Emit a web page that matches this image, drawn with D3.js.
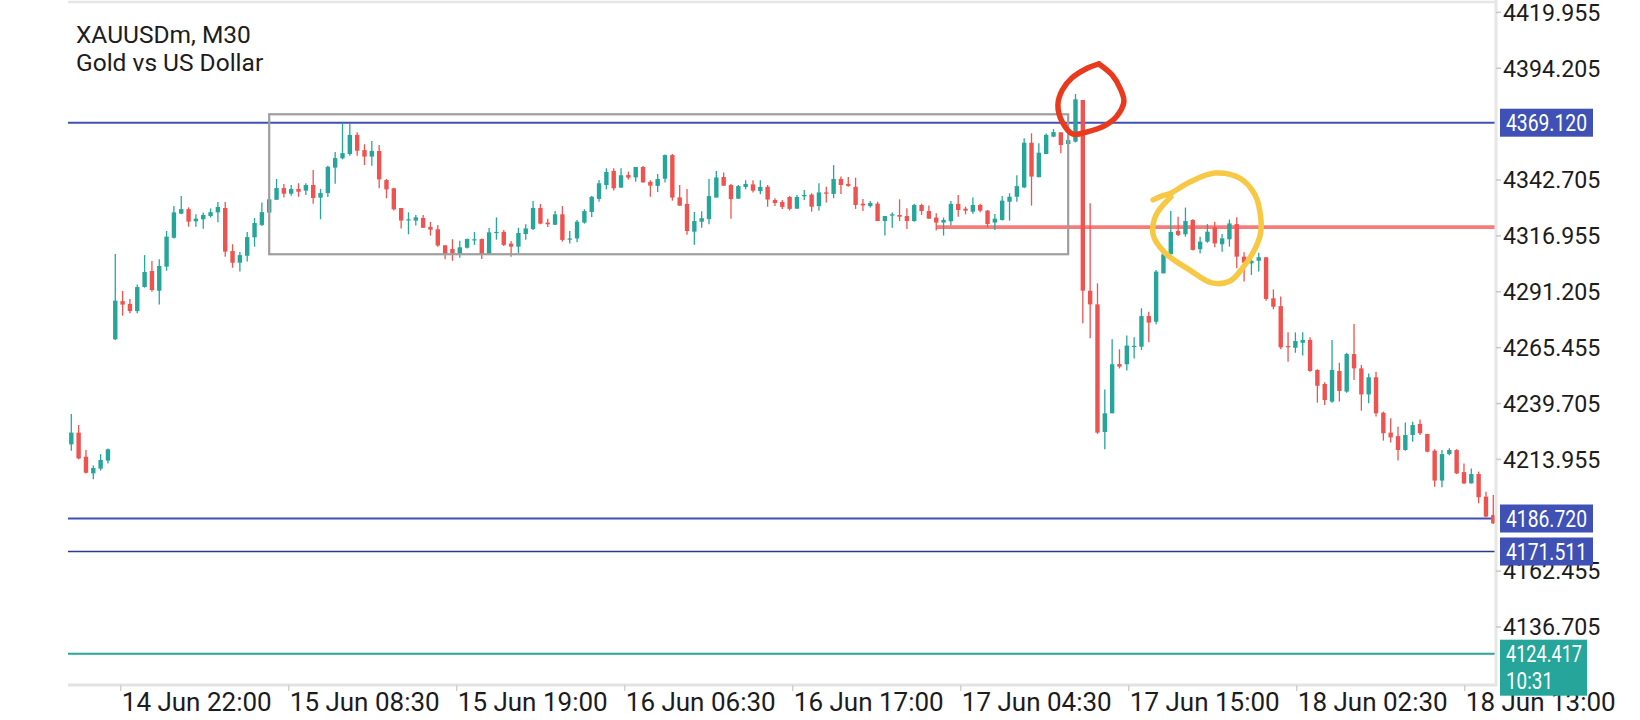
<!DOCTYPE html>
<html>
<head>
<meta charset="utf-8">
<script src="https://cdn.jsdelivr.net/npm/d3@7"></script>
<style>
  html, body { margin: 0; padding: 0; background: #fff; }
  svg { display: block; font-family: Roboto, "Noto Sans", sans-serif; }
</style>
</head>
<body>
<div id="chart"></div>
<script>
// XAUUSDm M30 candles (bar 0 = first visible bar)
const open = [
  4220.9,4226.3,4215.2,4207.5,4209.7,4213.4,4269.3,4286.9,4285.6,4282.3,
  4293.4,4300.8,4291.7,4302.8,4316.1,4327.2,4329.3,4323.7,4324.6,4326.1,
  4327.8,4329.8,4310.0,4304.6,4307.8,4316.3,4322.0,4327.7,4333.6,4339.0,
  4336.4,4338.6,4337.8,4340.4,4334.6,4336.7,4348.4,4352.7,4354.7,4363.5,
  4356.5,4353.5,4356.1,4342.7,4338.9,4329.8,4324.1,4324.0,4325.2,4321.1,
  4320.0,4312.6,4310.9,4308.5,4311.5,4314.9,4315.5,4308.5,4318.4,4318.8,
  4313.4,4312.0,4317.8,4320.1,4329.8,4323.1,4322.1,4326.9,4315.2,4315.8,
  4323.1,4328.0,4334.0,4340.4,4346.9,4339.2,4345.0,4343.9,4348.7,4341.9,
  4340.0,4343.3,4354.2,4334.7,4331.7,4318.9,4323.5,4324.7,4334.6,4344.1,
  4340.4,4334.1,4339.5,4340.7,4337.6,4339.6,4333.5,4332.6,4334.9,4329.5,
  4335.2,4336.0,4330.7,4337.0,4336.3,4343.2,4340.9,4339.6,4331.8,4330.7,
  4331.8,4323.8,4326.3,4326.6,4326.1,4323.8,4331.2,4328.4,4325.4,4323.1,
  4323.7,4331.7,4329.5,4328.1,4331.2,4328.6,4323.1,4324.3,4332.7,4335.0,
  4339.3,4359.9,4344.0,4354.7,4362.7,4364.7,4359.3,4360.4,4379.6,4291.7,
  4285.4,4226.6,4235.2,4257.9,4257.8,4266.0,4265.9,4280.0,4277.4,4299.7,
  4308.5,4319.2,4317.7,4324.3,4310.8,4314.3,4320.9,4313.1,4315.4,4322.4,
  4307.4,4304.3,4305.5,4307.1,4288.2,4284.6,4266.2,4265.4,4267.7,4269.0,
  4255.2,4248.7,4240.6,4254.7,4245.2,4262.5,4255.9,4243.9,4251.8,4235.5,
  4226.3,4224.7,4218.3,4225.2,4230.3,4225.7,4218.0,4204.2,4216.4,4218.3,
  4208.1,4202.9,4207.2,4196.8,4188.3
];
const high = [
  4234.9,4229.8,4218.3,4211.1,4216.4,4219.0,4308.6,4291.6,4287.9,4294.6,
  4308.1,4305.4,4306.2,4319.2,4330.7,4335.3,4330.1,4326.9,4327.7,4329.6,
  4332.6,4332.6,4313.1,4309.5,4318.7,4325.2,4332.4,4333.8,4343.2,4340.9,
  4340.4,4341.2,4341.2,4347.3,4338.6,4349.3,4355.6,4369.1,4368.5,4364.7,
  4359.2,4360.7,4358.9,4343.2,4339.2,4329.8,4327.8,4326.6,4326.6,4323.4,
  4322.0,4312.8,4315.4,4314.7,4315.8,4318.8,4315.8,4320.6,4325.5,4319.7,
  4314.6,4320.7,4322.3,4333.0,4331.7,4324.9,4328.4,4330.7,4319.2,4324.3,
  4329.3,4335.3,4342.7,4348.1,4348.1,4348.1,4346.6,4348.7,4349.2,4342.6,
  4345.5,4354.5,4354.7,4340.4,4338.6,4328.0,4328.3,4343.2,4346.9,4346.2,
  4340.9,4340.4,4342.6,4342.6,4342.6,4340.4,4334.3,4333.5,4335.3,4335.8,
  4338.1,4336.6,4341.2,4339.6,4349.6,4344.3,4344.1,4343.8,4334.0,4333.0,
  4332.7,4326.1,4327.7,4333.8,4329.7,4331.8,4331.8,4331.0,4327.4,4325.4,
  4333.0,4335.8,4330.4,4334.7,4331.8,4328.9,4327.0,4335.3,4336.6,4344.9,
  4361.9,4364.2,4359.6,4364.2,4366.2,4364.7,4364.2,4382.4,4379.6,4332.0,
  4295.1,4246.2,4269.3,4264.7,4271.0,4270.2,4283.6,4282.0,4301.2,4310.5,
  4328.4,4325.8,4330.0,4324.6,4316.6,4322.4,4323.5,4317.8,4324.5,4325.5,
  4309.4,4306.6,4309.2,4307.1,4292.3,4289.0,4272.5,4272.5,4272.5,4270.2,
  4255.5,4249.5,4269.0,4258.5,4263.1,4276.4,4257.5,4253.6,4254.4,4236.0,
  4232.9,4229.0,4231.0,4231.3,4232.4,4225.7,4218.6,4218.3,4219.1,4218.6,
  4212.1,4209.8,4208.3,4199.1,4197.6
];
const low = [
  4218.0,4214.0,4207.5,4204.8,4208.8,4212.1,4269.0,4280.2,4281.3,4281.3,
  4293.1,4291.2,4285.3,4300.9,4315.7,4327.0,4321.2,4321.2,4320.3,4325.4,
  4323.3,4307.4,4302.3,4300.5,4305.1,4312.0,4321.5,4327.3,4333.6,4334.7,
  4335.5,4335.0,4335.8,4331.8,4324.6,4334.9,4341.0,4352.2,4353.9,4353.9,
  4349.6,4349.3,4338.9,4334.3,4328.7,4320.4,4317.7,4321.7,4320.7,4317.1,
  4312.0,4306.2,4305.5,4306.9,4311.2,4312.8,4306.3,4308.5,4315.2,4312.3,
  4307.4,4309.1,4315.2,4319.7,4322.3,4321.1,4322.0,4314.3,4313.4,4314.0,
  4322.6,4325.7,4332.7,4338.4,4337.9,4339.2,4342.9,4341.9,4341.6,4335.0,
  4337.2,4341.6,4333.2,4330.9,4317.5,4312.9,4320.7,4322.3,4334.6,4340.1,
  4324.9,4334.1,4338.4,4337.0,4336.1,4330.4,4330.7,4329.4,4328.7,4329.5,
  4333.5,4328.1,4328.7,4332.3,4334.3,4336.3,4339.6,4329.4,4328.4,4330.0,
  4323.8,4317.1,4320.7,4323.8,4320.1,4323.5,4326.6,4324.9,4319.4,4317.1,
  4321.7,4325.8,4326.9,4327.2,4327.8,4320.9,4319.7,4324.0,4324.0,4332.7,
  4338.9,4330.9,4344.0,4354.7,4362.4,4355.0,4355.3,4360.0,4276.7,4269.8,
  4225.7,4218.6,4235.2,4255.9,4254.9,4260.5,4264.4,4267.9,4276.2,4299.7,
  4308.5,4316.9,4316.6,4310.2,4308.9,4313.8,4311.7,4309.7,4312.0,4302.0,
  4295.9,4299.0,4300.5,4287.1,4283.1,4264.7,4259.0,4263.1,4261.8,4254.4,
  4240.1,4239.0,4240.1,4240.6,4244.7,4250.5,4236.4,4239.8,4233.7,4222.6,
  4221.7,4213.4,4218.0,4222.1,4225.2,4217.2,4201.4,4201.1,4215.9,4207.2,
  4202.6,4202.9,4193.7,4187.3,4184.2
];
const close = [
  4226.3,4214.4,4207.8,4210.0,4213.7,4218.6,4287.1,4285.3,4282.3,4293.4,
  4300.3,4292.0,4303.1,4316.6,4327.8,4329.3,4323.5,4324.9,4326.6,4327.9,
  4330.3,4309.7,4304.6,4308.1,4316.4,4322.9,4327.9,4333.8,4339.0,4336.4,
  4338.6,4337.3,4340.4,4334.4,4336.7,4348.8,4352.8,4355.1,4363.5,4356.2,
  4353.5,4356.1,4343.0,4338.4,4329.2,4324.0,4324.6,4325.5,4320.7,4319.8,
  4312.5,4308.5,4308.8,4311.7,4315.5,4315.4,4308.5,4318.6,4318.8,4312.8,
  4312.0,4318.3,4320.4,4329.8,4322.6,4322.3,4326.9,4315.1,4315.8,4323.5,
  4328.4,4335.0,4341.2,4346.4,4338.9,4344.9,4343.8,4348.7,4341.6,4340.1,
  4343.2,4354.2,4334.6,4330.9,4319.2,4323.8,4325.1,4335.3,4343.9,4340.1,
  4333.9,4339.9,4340.9,4337.8,4339.5,4333.7,4332.1,4330.3,4329.4,4334.9,
  4335.8,4330.4,4337.0,4336.4,4343.2,4340.4,4340.0,4331.2,4331.0,4332.1,
  4323.8,4326.1,4326.9,4325.8,4323.8,4331.2,4328.4,4324.9,4323.1,4324.3,
  4331.7,4328.9,4328.6,4331.2,4328.6,4322.4,4324.9,4333.2,4335.0,4339.9,
  4359.9,4344.3,4355.3,4363.5,4364.8,4358.8,4361.1,4379.9,4291.7,4285.4,
  4226.3,4235.2,4257.8,4256.7,4266.4,4266.3,4280.0,4277.0,4300.5,4308.5,
  4318.8,4317.4,4323.8,4310.5,4314.3,4318.9,4313.5,4315.8,4322.7,4307.4,
  4304.6,4305.5,4307.1,4287.9,4284.3,4265.6,4265.8,4268.5,4269.0,4254.7,
  4247.9,4241.3,4255.2,4245.5,4262.5,4255.9,4243.9,4251.8,4235.2,4226.0,
  4224.1,4218.3,4225.2,4229.8,4226.0,4217.5,4204.2,4216.4,4218.3,4207.5,
  4202.9,4207.2,4196.5,4187.6,4184.5
];

// price axis ticks that show (step 25.75; the others sit under the price tags)
const priceTicks = [4419.955, 4394.205, 4342.705, 4316.955, 4291.205,
  4265.455, 4239.705, 4213.955, 4162.455, 4136.705];
const timeLabels = ["14 Jun 22:00", "15 Jun 08:30", "15 Jun 19:00", "16 Jun 06:30",
  "16 Jun 17:00", "17 Jun 04:30", "17 Jun 15:00", "18 Jun 02:30", "18 Jun 13:00"];
const timeLabelBars = [6.75, 29.67, 52.59, 75.51, 98.43, 121.35, 144.27, 167.19, 190.11];

// horizontal levels
const levelPrices = [4369.120, 4186.720, 4171.511];
const levelColors = ["#3f51b5", "#3f51b5", "#2c3a8c"];
const bidPrice = 4124.417;
const bidTimer = "10:31";
const redLevel = 4321.0, redLevelFromBar = 118;
const boxBars = [27, 136], boxPrices = [4373.0, 4308.5];

// hand drawn marks, in [bar, price]
const redLoop = [[140.2,4396.2],[142.0,4391.1],[143.2,4384.2],[143.6,4378.7],[142.6,4372.0],
  [141.0,4367.8],[138.7,4365.0],[136.6,4363.9],[135.2,4369.4],[134.6,4377.3],
  [135.2,4384.2],[136.5,4389.7],[138.4,4393.9],[140.2,4396.2]];
const yellowLoop = [[147.6,4333.6],[149.0,4335.6],[150.0,4336.6],[152.6,4341.8],[156.0,4345.9],[159.4,4343.6],
  [161.5,4335.8],[162.3,4324.3],[162.2,4317.4],[161.4,4310.4],[159.9,4302.6],
  [158.1,4296.2],[155.6,4295.3],[152.6,4301.2],[149.2,4309.2],[147.6,4317.4],
  [148.0,4326.6],[150.0,4334.9]];

const W = 1640, H = 720;
const pL = 68, pR = 1496, pT = 2, pB = 685;
const up = "#26a69a", down = "#ef5350";

const bars = open.map((o, i) => ({ i, o, h: high[i], l: low[i], c: close[i] }));

const x = d3.scaleLinear().domain([0, 194]).range([71.3, 1493.3]);
const y = d3.scaleLinear().domain([4124.417, 4369.12]).range([653.7, 122.7]);

const svg = d3.select('#chart').append('svg')
  .attr('width', W).attr('height', H);

svg.append('defs').append('clipPath').attr('id', 'plot')
  .append('rect').attr('x', pL).attr('y', pT)
  .attr('width', pR - pL).attr('height', pB - pT);

const plot = svg.append('g').attr('clip-path', 'url(#plot)');

// levels behind the candles
plot.selectAll('line.level').data(levelPrices).join('line')
  .attr('class', 'level')
  .attr('x1', pL).attr('x2', pR)
  .attr('y1', d => y(d)).attr('y2', d => y(d))
  .style('stroke', (d, i) => levelColors[i])
  .style('stroke-width', (d, i) => i == 2 ? 1.6 : 2);

plot.append('line')
  .attr('x1', pL).attr('x2', pR)
  .attr('y1', y(bidPrice)).attr('y2', y(bidPrice))
  .style('stroke', up).style('stroke-width', 2);

plot.append('line')
  .attr('x1', x(redLevelFromBar)).attr('x2', pR)
  .attr('y1', y(redLevel)).attr('y2', y(redLevel))
  .style('stroke', '#f77b7b').style('stroke-width', 3.8);

// candles
const bw = 4.4;
plot.selectAll('line.wick').data(bars).join('line')
  .attr('class', 'wick')
  .attr('x1', d => x(d.i)).attr('x2', d => x(d.i))
  .attr('y1', d => y(d.h)).attr('y2', d => y(d.l))
  .style('stroke', d => d.c >= d.o ? up : down)
  .style('stroke-width', 1.3);

plot.selectAll('rect.body').data(bars).join('rect')
  .attr('class', 'body')
  .attr('x', d => x(d.i) - bw / 2)
  .attr('width', bw)
  .attr('y', d => y(Math.max(d.o, d.c)))
  .attr('height', d => Math.max(1.2, Math.abs(y(d.o) - y(d.c))))
  .style('fill', d => d.c >= d.o ? up : down);

// range box
plot.append('rect')
  .attr('x', x(boxBars[0])).attr('y', y(boxPrices[0]))
  .attr('width', x(boxBars[1]) - x(boxBars[0]))
  .attr('height', y(boxPrices[1]) - y(boxPrices[0]))
  .style('fill', 'none').style('stroke', '#9e9e9e').style('stroke-width', 2.2);

// frame
svg.append('line').attr('x1', pL).attr('x2', pR).attr('y1', pT).attr('y2', pT)
  .style('stroke', '#e6e6e6').style('stroke-width', 2.5);
svg.append('line').attr('x1', pL).attr('x2', pR).attr('y1', pB).attr('y2', pB)
  .style('stroke', '#e3e3e3').style('stroke-width', 3);
svg.append('line').attr('x1', pR).attr('x2', pR).attr('y1', 0).attr('y2', pB + 1.5)
  .style('stroke', '#e6e6e6').style('stroke-width', 3);

// price axis
const fs = 23.2;
svg.selectAll('line.ptick').data(priceTicks).join('line')
  .attr('class', 'ptick')
  .attr('x1', pR).attr('x2', pR + 5)
  .attr('y1', d => y(d)).attr('y2', d => y(d))
  .style('stroke', '#c8c8c8').style('stroke-width', 1.5);
svg.selectAll('text.plabel').data(priceTicks).join('text')
  .attr('class', 'plabel')
  .attr('x', pR + 7)
  .attr('y', d => y(d) + fs * 0.355)
  .style('font-size', fs + 'px').style('fill', '#1c1c1c')
  .text(d => d.toFixed(3));

// time axis
svg.selectAll('line.ttick').data(timeLabelBars).join('line')
  .attr('class', 'ttick')
  .attr('x1', d => x(d)).attr('x2', d => x(d))
  .attr('y1', pB).attr('y2', pB + 6)
  .style('stroke', '#cfcfcf').style('stroke-width', 1.5);
svg.selectAll('text.tlabel').data(timeLabels).join('text')
  .attr('class', 'tlabel')
  .attr('x', (d, i) => x(timeLabelBars[i]) + 1)
  .attr('y', 711)
  .style('font-size', '26px').style('fill', '#1c1c1c')
  .text(d => d);

// level price tags (narrower type than the axis labels)
const tagW = 93, tagH = 28, tagFs = 23.5;
const tags = svg.selectAll('g.tag').data(levelPrices).join('g').attr('class', 'tag');
tags.append('rect')
  .attr('x', pR + 4).attr('y', d => y(d) - tagH / 2)
  .attr('width', tagW).attr('height', tagH)
  .style('fill', '#3f51b5');
tags.append('text')
  .attr('x', pR + 10).attr('y', d => y(d) + tagFs * 0.355)
  .attr('textLength', 81).attr('lengthAdjust', 'spacingAndGlyphs')
  .style('font-size', tagFs + 'px').style('fill', '#fff')
  .text(d => d.toFixed(3));

// bid tag with bar timer
const by = y(bidPrice);
svg.append('rect')
  .attr('x', pR + 4).attr('y', by - 14).attr('width', 87).attr('height', 56)
  .style('fill', up);
svg.append('text').attr('x', pR + 10).attr('y', by + tagFs * 0.355)
  .attr('textLength', 76).attr('lengthAdjust', 'spacingAndGlyphs')
  .style('font-size', tagFs + 'px').style('fill', '#fff').text(bidPrice.toFixed(3));
svg.append('text').attr('x', pR + 10).attr('y', by + 27 + tagFs * 0.355)
  .attr('textLength', 47).attr('lengthAdjust', 'spacingAndGlyphs')
  .style('font-size', tagFs + 'px').style('fill', '#fff').text(bidTimer);

// title
svg.append('text').attr('x', 76).attr('y', 43)
  .style('font-size', '24.5px').style('fill', '#1c1c1c').text('XAUUSDm, M30');
svg.append('text').attr('x', 76).attr('y', 71)
  .style('font-size', '24.5px').style('fill', '#1c1c1c').text('Gold vs US Dollar');

// hand drawn marks on top
var Gen = d3.line()
  .x(d => x(d[0])).y(d => y(d[1]))
  .curve(d3.curveCatmullRom.alpha(0.5));
svg.append('path').attr('d', Gen(redLoop))
  .style('fill', 'none').style('stroke', '#ea3a1e').style('stroke-width', 5.5)
  .style('stroke-linecap', 'round').style('stroke-linejoin', 'round');
svg.append('path').attr('d', Gen(yellowLoop))
  .style('fill', 'none').style('stroke', '#f7c843').style('stroke-width', 5.5)
  .style('stroke-linecap', 'round').style('stroke-linejoin', 'round');
</script>
</body>
</html>
